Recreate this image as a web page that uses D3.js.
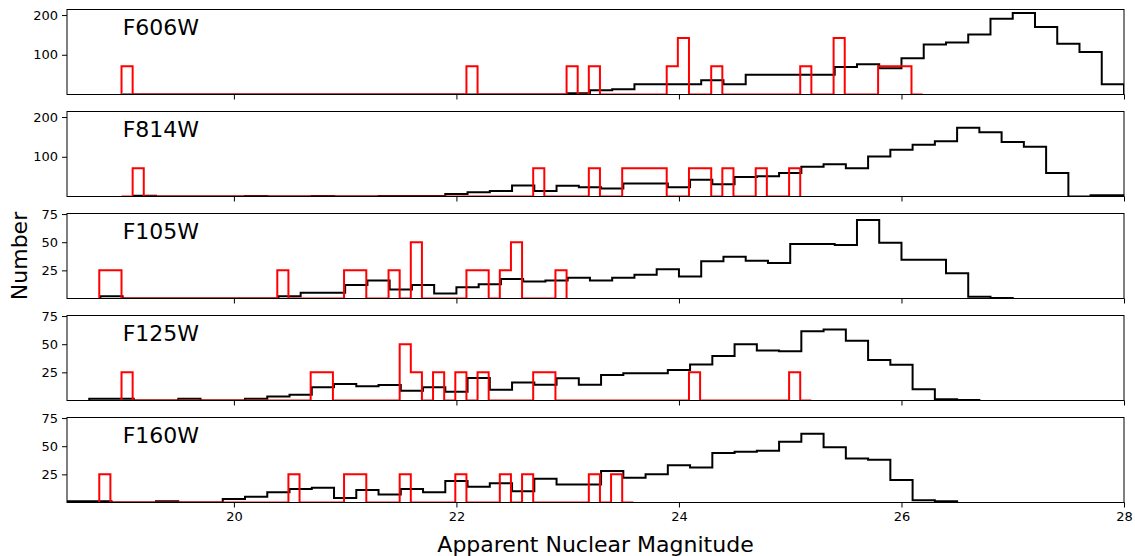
<!DOCTYPE html>
<html>
<head>
<meta charset="utf-8">
<script src="https://cdn.jsdelivr.net/npm/d3@7"></script>
<style>
  body { margin: 0; background: #fff; }
  svg { font-family: "DejaVu Sans", sans-serif; }
</style>
</head>
<body>
<svg id="chart"></svg>
<script>
// filters, top to bottom
const filters = ['F606W', 'F814W', 'F105W', 'F125W', 'F160W'];

// black histograms: first bin edge, 0.2 mag bins
const blackStart = [19.0, 19.1, 18.8, 18.7, 18.5];
const blackF606W = [0,0,0,0,0,0,0,0,0,0,0,0,0,0,0,0,0,0,0,
  0,3,11,13,26,26,26,36,26,50,50,50,50,69,76,66,91,126,131,151,191,205,170,128,107,26];
const blackF814W = [2,0,0,0,0,1,0,0,1,0,0,1,1,1,6,11,14,28,14,27,23,20,33,33,23,42,31,49,51,59,
  75,81,71,101,118,130,139,173,162,137,125,59,0,3,3];
const blackF105W = [2,0,0,0,0,0,0,0,2,5,5,12,16,8,12,4.5,10,12.6,17.4,15,16,18.5,16,18.5,21,26,19.5,
  33,37,33.5,31.5,48.5,48.5,47.5,69.8,49.5,34.4,34.4,22.5,1.5,0.5];
const blackF125W = [1.5,1.5,0,0,1.5,0,0,1.5,3.6,5,11.7,14.6,12.6,13.7,8.7,11.7,7.8,20,9.6,16,14,19.7,14,
  22.7,24.2,24.2,27.2,32,39.5,50,44.5,43.7,61.6,63,53,36,31.7,10,1.2,0.5];
const blackF160W = [1,1,0,0,1,0,0,3,5,9,12,13,4,11,7,12,9,19,14,17,10,21,16,16,28,22,25,33,31,44,
  45,46,54,61,49,39,38,20,2,1];
const blackCounts = [blackF606W, blackF814W, blackF105W, blackF125W, blackF160W];

// red histograms: range of 0.1 mag bins, non-empty bins as [bin start, height]
const redRange = [[18.99, 26.19], [18.99, 25.09], [18.79, 22.99], [18.99, 25.19], [18.79, 23.59]];
const redF606W = [[18.99,71],[22.09,71],[22.99,71],[23.19,71],[23.89,71],[23.99,142],[24.29,71],
  [25.09,71],[25.39,142],[25.79,71],[25.89,71],[25.99,71]];
const redF814W = [[19.09,71],[22.69,71],[23.19,71],[23.49,71],[23.59,71],[23.69,71],[23.79,71],
  [24.09,71],[24.19,71],[24.39,71],[24.69,71],[24.99,71]];
const redF105W = [[18.79,25],[18.89,25],[20.39,25],[20.99,25],[21.09,25],[21.39,25],[21.59,50],
  [22.09,25],[22.19,25],[22.39,25],[22.49,50],[22.89,25]];
const redF125W = [[18.99,25],[20.69,25],[20.79,25],[21.49,50],[21.59,25],[21.79,25],[21.99,25],
  [22.19,25],[22.69,25],[22.79,25],[24.09,25],[24.99,25]];
const redF160W = [[18.79,25],[20.49,25],[20.99,25],[21.09,25],[21.49,25],[21.99,25],[22.39,25],
  [22.59,25],[23.19,25],[23.39,25]];
const redBars = [redF606W, redF814W, redF105W, redF125W, redF160W];

const yMax = [214, 214, 75.5, 75.5, 75.5];
const yTicks = [[100, 200], [100, 200], [25, 50, 75], [25, 50, 75], [25, 50, 75]];
const xTicks = [20, 22, 24, 26, 28];

const width = 1135;
const height = 556;
const left = 67, right = 1124;
const panelTop = 9.5, panelH = 85, panelStep = 102;

const svg = d3.select('#chart')
  .attr('width', width)
  .attr('height', height);

const x = d3.scaleLinear().domain([18.5, 28]).range([left, right]);

// turn bins into step outline points
const stepPoints = (edges, vals) => {
  let pts = [[edges[0], 0]];
  vals.forEach((v, i) => {
    pts.push([edges[i], v]);
    pts.push([edges[i + 1], v]);
  });
  pts.push([edges[edges.length - 1], 0]);
  return pts;
};

filters.forEach((name, i) => {
  const top = panelTop + i * panelStep;
  const y = d3.scaleLinear().domain([0, yMax[i]]).range([top + panelH, top]);
  const g = svg.append('g');

  g.append('clipPath').attr('id', 'clip' + i)
    .append('rect')
    .attr('x', left).attr('y', top - 2)
    .attr('width', right - left).attr('height', panelH + 2);

  const line = d3.line().x(d => x(d[0])).y(d => y(d[1]));

  // black
  const bc = blackCounts[i];
  const bEdges = d3.range(bc.length + 1).map(k => blackStart[i] + k * 0.2);
  g.append('path')
    .attr('d', line(stepPoints(bEdges, bc)))
    .attr('fill', 'none')
    .attr('stroke', '#000')
    .attr('stroke-width', 2)
    .attr('clip-path', `url(#clip${i})`);

  // red
  const [r0, r1] = redRange[i];
  const nRed = Math.round((r1 - r0) / 0.1);
  const rc = new Array(nRed).fill(0);
  redBars[i].forEach(([m, v]) => { rc[Math.round((m - r0) / 0.1)] = v; });
  const rEdges = d3.range(nRed + 1).map(k => r0 + k * 0.1);
  g.append('path')
    .attr('d', line(stepPoints(rEdges, rc)))
    .attr('fill', 'none')
    .attr('stroke', '#ff0000')
    .attr('stroke-width', 2)
    .attr('clip-path', `url(#clip${i})`);

  // frame
  g.append('rect')
    .attr('x', left).attr('y', top)
    .attr('width', right - left).attr('height', panelH)
    .attr('fill', 'none')
    .attr('stroke', '#000')
    .attr('stroke-width', 1);

  const xAxis = g.append('g')
    .attr('transform', `translate(0,${top + panelH})`)
    .call(d3.axisBottom(x).tickValues(xTicks).tickSize(5).tickPadding(4)
      .tickFormat(i === filters.length - 1 ? d3.format('d') : () => ''));
  xAxis.select('.domain').remove();
  xAxis.selectAll('text').attr('font-size', 13).attr('fill', '#000')
    .attr('font-family', '"DejaVu Sans", sans-serif');

  const yAxis = g.append('g')
    .attr('transform', `translate(${left},0)`)
    .call(d3.axisLeft(y).tickValues(yTicks[i]).tickSize(5).tickPadding(4));
  yAxis.select('.domain').remove();
  yAxis.selectAll('text').attr('font-size', 13).attr('fill', '#000')
    .attr('font-family', '"DejaVu Sans", sans-serif');

  g.append('text')
    .attr('x', x(19))
    .attr('y', top + 25)
    .attr('font-size', 22)
    .text(name);
});

svg.append('text')
  .attr('x', (left + right) / 2)
  .attr('y', 552)
  .attr('text-anchor', 'middle')
  .attr('font-size', 22)
  .text('Apparent Nuclear Magnitude');

svg.append('text')
  .attr('transform', `translate(27,${panelTop + (4 * panelStep + panelH) / 2}) rotate(-90)`)
  .attr('text-anchor', 'middle')
  .attr('font-size', 22)
  .text('Number');
</script>
</body>
</html>
